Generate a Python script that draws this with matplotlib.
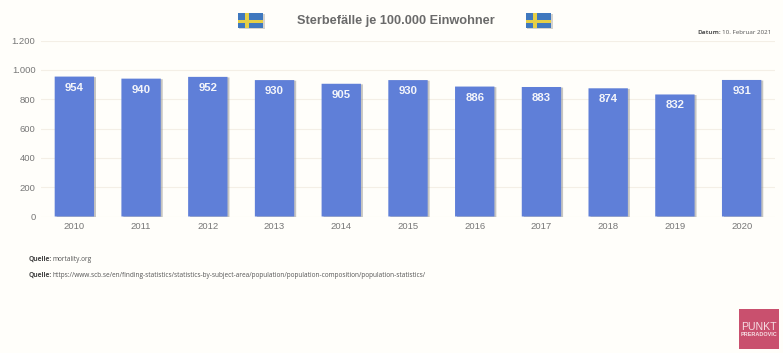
# Sterbefaelle je 100.000 Einwohner, Schweden

import matplotlib
matplotlib.use("Agg")
import matplotlib.pyplot as plt
import matplotlib.patheffects as pe
from matplotlib.patches import Rectangle

years = ["2010", "2011", "2012", "2013", "2014", "2015", "2016", "2017", "2018", "2019", "2020"]
deaths = [954, 940, 952, 930, 905, 930, 886, 883, 874, 832, 931]
yticks = [0, 200, 400, 600, 800, 1000, 1200]
ylabels = ["0", "200", "400", "600", "800", "1.000", "1.200"]

W, H = 783.0, 353.0
BG = "#FFFEFA"

plt.rcParams['font.family'] = ['Liberation Sans', 'DejaVu Sans']


def px_box(x0, y0, x1, y1):
    return [x0 / W, 1 - y1 / H, (x1 - x0) / W, (y1 - y0) / H]


def fx(x):
    return x / W


def fy(y):
    return 1 - y / H


def flag(x0, y0):
    # shadow, blue field, yellow cross
    fig.add_artist(Rectangle((fx(x0 + 1), fy(y0 + 16)), 25.5 / W, 15 / H, color="#D5D3CE", lw=0))
    fig.add_artist(Rectangle((fx(x0), fy(y0 + 15)), 25 / W, 15 / H, color="#3F78BE", lw=0))
    fig.add_artist(Rectangle((fx(x0), fy(y0 + 10.2)), 25 / W, 3.4 / H, color="#E6CF45", lw=0))
    fig.add_artist(Rectangle((fx(x0 + 7.2), fy(y0 + 15)), 4 / W, 15 / H, color="#E6CF45", lw=0))


fig = plt.figure(figsize=(7.83, 3.53), dpi=100, facecolor=BG)
ax = fig.add_axes(px_box(41, 40.5, 775, 216.5), facecolor=BG)

bars = ax.bar(range(len(years)), deaths, width=0.59, color="#5F7FD8", zorder=3)
for b in bars:
    b.set_snap(False)
    b.set_path_effects([pe.SimplePatchShadow(offset=(1.4, -0.4), shadow_rgbFace="#8E8E8A", alpha=0.5), pe.Normal()])

for i, v in enumerate(deaths):
    ax.text(i, v - 75, str(v), ha="center", va="center", color="#F4F5FA",
            fontsize=8.2, fontweight="bold", zorder=4)

ax.set_xlim(-0.5, 10.5)
ax.set_ylim(0, 1200)
ax.set_xticks(range(len(years)))
ax.set_xticklabels(years, fontsize=6.8, color="#777777")
ax.set_yticks(yticks)
ax.set_yticklabels(ylabels, fontsize=6.8, color="#777777")
ax.tick_params(length=0, pad=4)
ax.tick_params(axis="x", pad=4)
ax.grid(axis="y", color="#F4EFE6", linewidth=0.8, zorder=0)
ax.set_axisbelow(True)
for s in ax.spines.values():
    s.set_visible(False)

fig.text(fx(396), fy(21), "Sterbefälle je 100.000 Einwohner", ha="center", va="center",
         fontsize=9.2, fontweight="bold", color="#6A6A6A")
flag(238, 13)
flag(526, 13)

note = ['Open Sans', 'DejaVu Sans']
fig.text(fx(697), fy(32), "Datum:", ha="left", va="center", fontsize=4.6, fontweight="bold",
         color="#555555", family=note)
fig.text(fx(722), fy(32), "10. Februar 2021", ha="left", va="center", fontsize=4.5,
         color="#555555", family=note)

fig.text(fx(29), fy(259.5), "Quelle:", ha="left", va="center", fontsize=4.8, fontweight="bold",
         color="#444444", family=note)
fig.text(fx(52.5), fy(259.5), "mortality.org", ha="left", va="center", fontsize=4.7,
         color="#555555", family=note)
fig.text(fx(29), fy(275.5), "Quelle:", ha="left", va="center", fontsize=4.8, fontweight="bold",
         color="#444444", family=note)
fig.text(fx(52.5), fy(275.5),
         "https://www.scb.se/en/finding-statistics/statistics-by-subject-area/population/population-composition/population-statistics/",
         ha="left", va="center", fontsize=4.7, color="#555555", family=note)

# logo unten rechts
fig.add_artist(Rectangle((fx(739), fy(349)), 40 / W, 40 / H, color="#C9506E", lw=0))
fig.text(fx(759), fy(326.5), "PUNKT", ha="center", va="center", fontsize=7.6, color="#F6DDE3")
fig.text(fx(759), fy(335), "PRERADOVIC", ha="center", va="center", fontsize=4, fontweight="bold", color="#F6DDE3")

fig.savefig("out.png", dpi=100, facecolor=BG)
